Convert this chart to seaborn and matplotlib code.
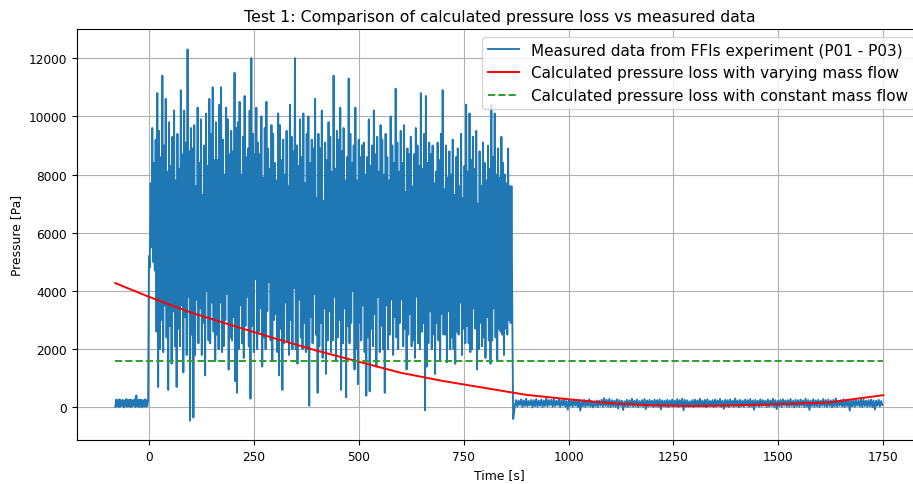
import numpy as np
import pandas as pd
import matplotlib
matplotlib.use("Agg")
import matplotlib.pyplot as plt
import seaborn as sns

t_pre_start, t_pre_step = -80.0, 2.0
p_pre = [20, 270, 40, 250, 10, 280, 30, 240, 60, 260, 0, 230, 50, 290, 20, 250, 40, 270, 10, 260,
         30, 240, 60, 280, 20, 410, 40, 250, 10, 270, 30, 260, 0, 240, 50, 280, 20, 250, 40, 230]

t_high_start, t_high_step = 0.0, 2.0
p_high = [
    5200, 4800, 7700, 5500, 9600, 5000, 8400, 4700, 9200, 2600, 10800, 700, 9500, 2000, 8600, 3000, 11400, 1900, 9000, 3500,
    10600, 2400, 8100, 600, 9800, 2800, 8300, 1500, 9300, 3300, 10200, 2100, 7800, 700, 9400, 2700, 8200, 2100, 10900, 3500,
    8700, 1200, 10200, 3100, 9100, 1800, 12300, 3800, 8800, -450, 9600, 2500, 8900, -350, 9700, 1800, 7600, 3700, 10300, 2200,
    8400, 3400, 9900, 1800, 7300, 2900, 9000, 1100, 10100, 4000, 8300, 2300, 10600, 2200, 9400, 3600, 11000, 2600, 8500, 1600,
    9800, 2500, 8500, 2000, 10400, 3600, 11000, 1900, 9200, 2100, 8000, 3000, 10300, 3900, 9900, 1300, 8700, 2400, 9500, 2300,
    8800, 3100, 11500, 900, 9600, 500, 9800, 2000, 10500, 3500, 8000, 2200, 9300, 1700, 10700, 2800, 8600, 3800, 8900, 2100,
    10200, 300, 12000, 2800, 9400, 1900, 8700, 4400, 10300, 2000, 9100, 2600, 8700, 3400, 10000, 1400, 7900, 2400, 9600, 2000,
    10500, 3300, 8900, 4300, 8200, 2300, 9700, 1600, 9400, 3000, 8400, 3200, 7800, 1900, 10100, 1100, 9700, 2700, 8500, 600,
    9200, 2200, 8000, 3600, 9500, 2300, 7600, 1800, 10400, 3000, 9300, 2000, 8800, 4100, 12000, 2000, 9000, 1500, 8300, 3700,
    9900, 2400, 8600, 2000, 10100, 2900, 7700, 1900, 9400, 2000, 10000, 60, 8400, 3100, 9200, 2200, 8900, 3900, 10600, 2500,
    7200, 500, 9400, 2100, 8900, 2900, 10200, 1700, 7100, 3400, 9100, 1150, 8500, 2300, 9800, 3300, 9300, 1900, 8100, 2300,
    11400, 3800, 8200, 1600, 9500, 2400, 9200, 3000, 10300, 600, 8800, 2200, 9600, 3400, 7800, 350, 8600, 2800, 11300, 2200,
    9400, 2900, 8400, 4000, 9000, 1300, 10300, 2000, 7800, 800, 9200, 2900, 8600, 2300, 9000, 3500, 9100, 1900, 8000, 400,
    8600, 2400, 9900, 550, 8300, 2700, 9000, 2100, 10200, 3200, 8700, 1400, 9300, 3800, 8100, 1900, 9700, 2800, 9200, 2000,
    8000, 500, 9400, 3500, 8600, 2000, 7800, 2500, 10000, 3700, 9000, 1800, 8400, 3100, 10950, 2400, 9100, 2000, 8100, 2900,
    9500, 3700, 8400, 2100, 9700, 2700, 7400, 1300, 8900, 2500, 8700, 3200, 9300, 2100, 7600, 2300, 8700, 1700, 9600, 3800,
    9000, 2200, 8300, 2000, 10800, 2600, 8200, 2900, 9400, -100, 10700, 1400, 8400, 2200, 9100, 3300, 8700, 2000, 9000, 2500,
    7700, 1150, 8100, 2900, 9100, 2300, 8500, 1600, 9400, 3200, 10900, 2500, 7500, 2500, 9000, 1550, 7900, 3300, 8800, 2000,
    8000, 2400, 9200, 2000, 7300, 1500, 8600, 2600, 8900, 2500, 7600, 3600, 9400, 1800, 7200, 2700, 8300, 2200, 10400, 2800,
    8100, 2200, 10100, 1900, 8500, 2000, 9300, 3400, 8200, 2700, 9500, 1300, 7000, 2000, 8800, 2900, 7600, 2100, 9100, 2400,
    8400, 1700, 7800, 3100, 9000, 2300, 8200, 1500, 10400, 2300, 8600, 3400, 10100, 2400, 8000, 1600, 8900, 2700, 7900, 2600,
    9300, 2500, 8400, 1800, 8000, 2700, 7700, 2500, 8900, 3000, 7600, 2900, 7600, 3000, -400]

t_post_start, t_post_step = 872.0, 3.0
p_post = [
    60, 250, 20, 230, 80, 280, 10, 240, 50, 300, 30, 220, 70, 260, 0, 250, 40, 290, 20, 230,
    60, 270, 10, 240, 50, 320, 30, 250, 80, 260, 20, 290, 40, 230, 70, 280, 10, 250, 60, 300,
    30, 220, -80, 260, 50, 240, 20, 270, 60, 230, 10, 250, -110, 210, 40, 260, 20, 230, 50, 280,
    30, 220, 0, 200, 40, 240, 10, 230, 60, 270, 20, 320, 50, 260, 30, 290, 10, 250, 40, 230,
    20, 280, -40, 250, 60, 230, -90, 210, 30, 260, 10, 240, 50, 300, 20, 230, 40, 270, 0, 220,
    50, 250, 20, 290, -60, 240, 30, 260, 60, 230, 10, 270, 40, 250, 20, 280, -70, 240, 50, 230,
    30, 260, 10, 240, 60, 270, 20, 230, 40, 290, 10, 250, 50, 300, -100, 260, 30, 240, 20, 210,
    40, 250, 10, 270, 60, 240, 20, 300, 50, 230, 30, 260, 0, 280, 40, 220, 60, 250, 10, 270,
    30, 240, 70, 290, 20, 230, -50, 260, 40, 250, 10, 280, 60, 230, 20, 310, 50, 240, 0, 260,
    40, 230, 20, 270, 60, 250, 10, 290, 30, 240, -80, 260, 50, 230, 20, 280, 40, 250, 60, 230,
    10, 270, 30, 240, 50, 300, 20, 250, -60, 230, 40, 260, 10, 280, 60, 240, 30, 250, 20, 290,
    50, 230, 0, 260, 40, 250, 20, 270, 60, 240, 10, 300, 30, 250, -90, 230, 50, 280, 20, 240,
    40, 260, 10, 230, 60, 290, 30, 250, 20, 270, 50, 240, 0, 260, 40, 310, 20, 230, 60, 250,
    30, 280, 10, 240, 50, 260, -110, 230, 40, 270, 20, 250, 60, 240, 30, 290, 10, 260, 50, 230,
    20, 250, 40, 270, 10, 240, -80, 230, 60, 260, 30, 220, 80]

# ---- calculated pressure loss, varying mass flow ----
t_calc = [-80, 0, 100, 200, 300, 400, 500, 600, 700, 800, 900, 1000, 1100, 1200, 1300, 1400, 1500, 1620, 1750]
p_calc = [4270, 3800, 3260, 2810, 2370, 1950, 1570, 1190, 910, 670, 430, 280, 145, 70, 50, 70, 110, 170, 420]

# ---- calculated pressure loss, constant mass flow ----
t_const = [-80, 1750]
p_const = [1600, 1600]


def times(start, step, n):
    return start + step * np.arange(n)


meas = pd.DataFrame({
    "Time": np.concatenate([times(t_pre_start, t_pre_step, len(p_pre)),
                            times(t_high_start, t_high_step, len(p_high)),
                            times(t_post_start, t_post_step, len(p_post))]),
    "Pressure": np.concatenate([p_pre, p_high, p_post]).astype(float),
})
calc = pd.DataFrame({"Time": t_calc, "Pressure": p_calc})
const = pd.DataFrame({"Time": t_const, "Pressure": p_const})

fig = plt.figure(figsize=(9.13, 4.85), dpi=100)
ax = fig.add_axes([0.0843, 0.0907, 0.9252, 0.8474])

sns.lineplot(data=meas, x="Time", y="Pressure", ax=ax, color="#1f77b4", linewidth=1.35,
             estimator=None, sort=False, label="Measured data from FFIs experiment (P01 - P03)")
sns.lineplot(data=calc, x="Time", y="Pressure", ax=ax, color="red", linewidth=1.4,
             estimator=None, sort=False, label="Calculated pressure loss with varying mass flow")
sns.lineplot(data=const, x="Time", y="Pressure", ax=ax, color="#2ca02c", linewidth=1.4,
             linestyle="--", estimator=None, sort=False,
             label="Calculated pressure loss with constant mass flow")

ax.set_xlim(-171.5, 1841.5)
ax.set_ylim(-1120, 13000)
ax.set_xticks([0, 250, 500, 750, 1000, 1250, 1500, 1750])
ax.set_yticks([0, 2000, 4000, 6000, 8000, 10000, 12000])
ax.tick_params(labelsize=8.7)
ax.grid(True, color="#b0b0b0", linewidth=0.8)
ax.set_axisbelow(True)
ax.set_xlabel("Time [s]", fontsize=8.9)
ax.set_ylabel("Pressure [Pa]", fontsize=8.9)
ax.set_title("Test 1: Comparison of calculated pressure loss vs measured data", fontsize=11.3)
ax.legend(loc="upper right", fontsize=11)

fig.savefig("out.png", dpi=100)
